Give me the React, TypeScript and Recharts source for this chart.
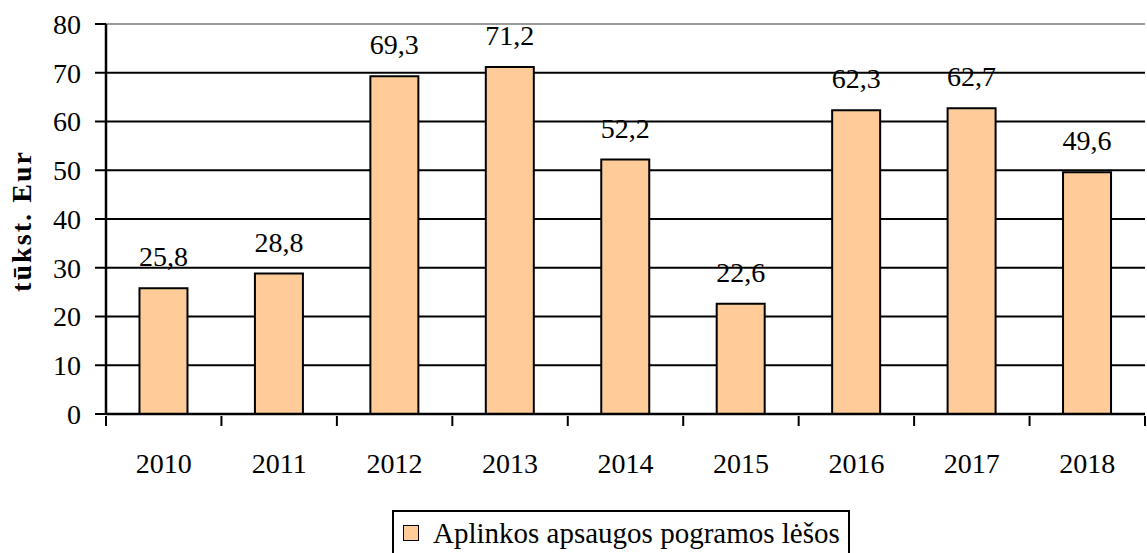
import React from "react";
import {
  BarChart,
  Bar,
  XAxis,
  YAxis,
  CartesianGrid,
  LabelList,
  Legend,
  ReferenceLine,
} from "recharts";

const years = ["2010", "2011", "2012", "2013", "2014", "2015", "2016", "2017", "2018"];
const values = [25.8, 28.8, 69.3, 71.2, 52.2, 22.6, 62.3, 62.7, 49.6];
const yTicks = [0, 10, 20, 30, 40, 50, 60, 70, 80];
const seriesName = "Aplinkos apsaugos pogramos lėšos";
const yLabel = "tūkst. Eur";

const data = years.map((y, i) => ({ year: y, value: values[i] }));

const FONT = "Liberation Serif";

const LegendBox = () => (
  <div
    style={{
      border: "2px solid #000",
      height: 46,
      boxSizing: "border-box",
      display: "flex",
      alignItems: "center",
      padding: "0 8px 0 9px",
      fontFamily: FONT,
      fontSize: 29,
      color: "#000",
      whiteSpace: "nowrap",
    }}
  >
    <span
      style={{
        display: "inline-block",
        width: 14,
        height: 14,
        background: "#FFCC99",
        border: "1.5px solid #000",
        marginRight: 14,
      }}
    />
    {seriesName}
  </div>
);

const XTick = (props: any) => {
  const { x, y, payload, index } = props;
  const half = payload.offset || 0;
  const last = index === years.length - 1;
  return (
    <g>
      <line x1={x - half} x2={x - half} y1={y} y2={y + 10} stroke="#000" strokeWidth={2} />
      {last && <line x1={x + half} x2={x + half} y1={y} y2={y + 10} stroke="#000" strokeWidth={2} />}
      <text
        x={x}
        y={y + 47}
        textAnchor="middle"
        dominantBaseline="central"
        fontFamily={FONT}
        fontSize={28}
        fill="#000"
      >
        {payload.value}
      </text>
    </g>
  );
};

export default function App() {
  return (
    <div style={{ position: "absolute", left: 0, top: 0, width: 1147, height: 553, overflow: "hidden", background: "#fff" }}>
      <BarChart
        width={1147}
        height={553}
        data={data}
        margin={{ top: 24, right: 2, left: 0, bottom: 33 }}
        barCategoryGap="29%"
      >
        <CartesianGrid horizontal vertical={false} stroke="#000" strokeWidth={2} />
        <XAxis
          dataKey="year"
          height={60}
          interval={0}
          tickLine={false}
          tickSize={0}
          axisLine={{ stroke: "#000", strokeWidth: 2.5 }}
          tick={<XTick />}
        />
        <YAxis
          width={106}
          domain={[0, 80]}
          ticks={yTicks}
          interval={0}
          tickSize={11}
          tickMargin={14}
          axisLine={{ stroke: "#000", strokeWidth: 2.5 }}
          tickLine={{ stroke: "#000", strokeWidth: 2 }}
          tick={{ fill: "#000", fontSize: 28, fontFamily: FONT }}
          label={({ viewBox }: any) => {
            const cx = 21;
            const cy = 222;
            return (
              <text
                x={cx}
                y={cy}
                transform={`rotate(-90 ${cx} ${cy})`}
                textAnchor="middle"
                dominantBaseline="central"
                fontFamily={FONT}
                fontWeight="bold"
                fontSize={28}
                textLength={140}
                lengthAdjust="spacing"
                fill="#000"
              >
                {yLabel}
              </text>
            );
          }}
        />
        <YAxis
          yAxisId="right"
          orientation="right"
          width={0}
          tick={false}
          tickLine={false}
          axisLine={{ stroke: "#999", strokeWidth: 2 }}
        />
        <ReferenceLine y={80} stroke="#999" strokeWidth={2} />
        <Bar
          dataKey="value"
          name={seriesName}
          fill="#FFCC99"
          stroke="#000"
          strokeWidth={2}
          isAnimationActive={false}
        >
          <LabelList
            dataKey="value"
            position="top"
            offset={22}
            fill="#000"
            fontSize={28}
            fontFamily={FONT}
            formatter={(v: any) => String(v).replace(".", ",")}
          />
        </Bar>
        <Legend
          verticalAlign="bottom"
          content={() => <LegendBox />}
          wrapperStyle={{ left: 392, top: 510, width: "auto", height: 46 }}
        />
      </BarChart>
    </div>
  );
}
